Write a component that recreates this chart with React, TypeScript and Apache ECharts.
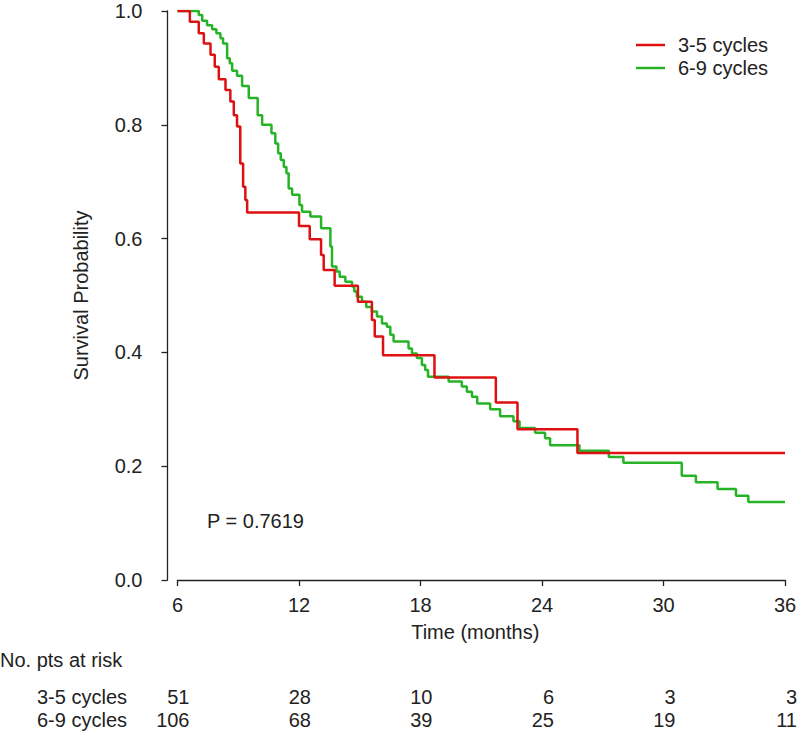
import React, { useEffect, useRef } from "react";
import * as echarts from "echarts";

// ---- data ----
const seriesNames = ["3-5 cycles", "6-9 cycles"];

const redTime = [6, 6.61, 7.05, 7.3, 7.63, 7.84, 8.04, 8.37, 8.61, 8.78, 8.94, 9.1, 9.24, 9.35, 9.44, 12.0, 12.53, 13.09, 13.22, 13.76, 14.91, 15.6, 15.74, 16.15, 18.69, 21.72, 22.79, 25.75, 36];
const redSurv = [1.0, 0.981, 0.961, 0.943, 0.923, 0.902, 0.88, 0.861, 0.841, 0.817, 0.797, 0.732, 0.691, 0.668, 0.646, 0.622, 0.599, 0.571, 0.545, 0.517, 0.489, 0.457, 0.428, 0.395, 0.356, 0.312, 0.265, 0.223, 0.223];

const greenTime = [6, 7.05, 7.22, 7.46, 7.71, 7.92, 8.12, 8.25, 8.45, 8.58, 8.7, 8.94, 9.19, 9.52, 9.96, 10.18, 10.64, 10.83, 10.97, 11.1, 11.25, 11.38, 11.49, 11.66, 12.02, 12.15, 12.56, 13.09, 13.55, 13.63, 13.85, 14.01, 14.29, 14.62, 14.73, 14.86, 15.11, 15.32, 15.6, 15.85, 16.1, 16.34, 16.51, 16.67, 17.41, 17.58, 17.82, 18.07, 18.23, 18.37, 19.39, 20.04, 20.29, 20.54, 20.8, 21.44, 21.93, 22.59, 22.89, 23.66, 24.15, 24.4, 25.85, 27.3, 28.02, 30.9, 31.6, 32.67, 33.58, 34.19, 36];
const greenSurv = [1.0, 0.993, 0.983, 0.975, 0.968, 0.961, 0.952, 0.943, 0.917, 0.908, 0.895, 0.886, 0.868, 0.847, 0.817, 0.8, 0.785, 0.767, 0.75, 0.738, 0.726, 0.715, 0.688, 0.677, 0.659, 0.647, 0.639, 0.618, 0.586, 0.551, 0.542, 0.533, 0.524, 0.516, 0.507, 0.498, 0.489, 0.48, 0.472, 0.463, 0.451, 0.445, 0.431, 0.419, 0.407, 0.398, 0.39, 0.378, 0.369, 0.357, 0.349, 0.34, 0.331, 0.322, 0.31, 0.3, 0.288, 0.279, 0.267, 0.259, 0.249, 0.237, 0.227, 0.216, 0.206, 0.183, 0.172, 0.16, 0.148, 0.137, 0.137];

const riskTimes = [6, 12, 18, 24, 30, 36];
const risk35 = [51, 28, 10, 6, 3, 3];
const risk69 = [106, 68, 39, 25, 19, 11];

const pLabel = "P = 0.7619";

const RED = "#dd1111";
const GREEN = "#26b326";
const TXT = "#222222";
const FONT = "'Liberation Sans', Arial, Helvetica, sans-serif";

export default function App() {
  const ref = useRef<HTMLDivElement>(null);
  useEffect(() => {
    if (!ref.current) return;
    const chart = echarts.init(ref.current, null, { renderer: "svg" });
    const red = redTime.map((t, i) => [t, redSurv[i]]);
    const green = greenTime.map((t, i) => [t, greenSurv[i]]);
    const axisLine = { show: true, lineStyle: { color: TXT, width: 1.3 } };
    chart.setOption({
      animation: false,
      textStyle: { fontFamily: FONT },
      grid: { left: 177.5, right: 15, top: 11, bottom: 159, containLabel: false },
      legend: {
        orient: "vertical",
        left: 631,
        top: 30,
        icon: "rect",
        itemWidth: 29,
        itemHeight: 2.5,
        itemGap: 3,
        textStyle: { fontSize: 20, color: TXT, fontFamily: FONT, padding: [0, 0, 0, 8] },
        data: seriesNames,
      },
      xAxis: {
        type: "value",
        min: 6,
        max: 36,
        interval: 6,
        offset: 2,
        axisLine,
        axisTick: { show: true, length: 6, lineStyle: { color: TXT, width: 1.3 } },
        axisLabel: { fontSize: 20, color: TXT, margin: 13, fontFamily: FONT },
        splitLine: { show: false },
        name: "Time (months)",
        nameLocation: "middle",
        nameGap: 40,
        nameTextStyle: { fontSize: 20, color: TXT, fontFamily: FONT, padding: [0, 12, 0, 0] },
      },
      yAxis: {
        type: "value",
        min: 0,
        max: 1,
        interval: 0.2,
        offset: 10,
        axisLine,
        axisTick: { show: true, length: 6, lineStyle: { color: TXT, width: 1.3 } },
        axisLabel: { fontSize: 20, color: TXT, margin: 25, fontFamily: FONT, formatter: (v: number) => v.toFixed(1) },
        splitLine: { show: false },
        name: "Survival Probability",
        nameLocation: "middle",
        nameGap: 77,
        nameTextStyle: { fontSize: 20, color: TXT, fontFamily: FONT },
      },
      series: [
        {
          name: seriesNames[0],
          type: "line",
          step: "end",
          symbol: "none",
          data: red,
          lineStyle: { color: RED, width: 2.5 },
          itemStyle: { color: RED },
          z: 3,
        },
        {
          name: seriesNames[1],
          type: "line",
          step: "end",
          symbol: "none",
          data: green,
          lineStyle: { color: GREEN, width: 2.5 },
          itemStyle: { color: GREEN },
          z: 2,
        },
      ],
    });

    const ts = { fontSize: 20, fill: TXT, fontFamily: FONT };
    const elements: any[] = [];
    elements.push({
      type: "text",
      left: 207,
      top: 511,
      style: { ...ts, text: pLabel },
    });
    elements.push({ type: "text", x: 0, y: 660, style: { ...ts, text: "No. pts at risk", align: "left", verticalAlign: "middle" } });
    elements.push({ type: "text", x: 127, y: 697, style: { ...ts, text: seriesNames[0], align: "right", verticalAlign: "middle" } });
    elements.push({ type: "text", x: 127, y: 720, style: { ...ts, text: seriesNames[1], align: "right", verticalAlign: "middle" } });
    riskTimes.forEach((t, i) => {
      const px = chart.convertToPixel({ xAxisIndex: 0 }, t) as number;
      elements.push({ type: "text", x: px + 12, y: 697, style: { ...ts, text: String(risk35[i]), align: "right", verticalAlign: "middle" } });
      elements.push({ type: "text", x: px + 12, y: 720, style: { ...ts, text: String(risk69[i]), align: "right", verticalAlign: "middle" } });
    });
    chart.setOption({ graphic: { elements } });

    return () => chart.dispose();
  }, []);
  return (
    <div
      ref={ref}
      style={{ position: "fixed", left: 0, top: 0, width: 800, height: 739, background: "#fff" }}
    />
  );
}
